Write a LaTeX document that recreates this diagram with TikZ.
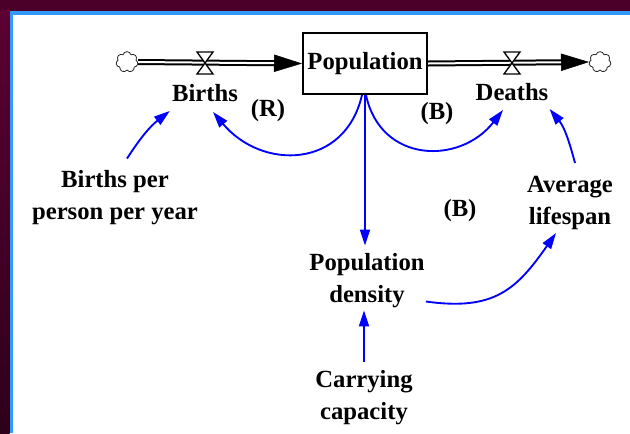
\documentclass[tikz,border=0pt]{standalone}
\usepackage{fontspec}
\setmainfont{Liberation Serif}
\usetikzlibrary{arrows.meta,shapes.symbols,calc}
\definecolor{framemaroon}{RGB}{74,0,40}
\definecolor{framemaroonA}{RGB}{92,0,52}
\definecolor{framemaroonB}{RGB}{46,0,26}
\definecolor{frameblue}{RGB}{51,153,255}
\begin{document}
\begin{tikzpicture}[x=0.75pt,y=0.75pt,
  lbl/.style={font=\fontsize{18.5}{24}\selectfont\bfseries, align=center, inner sep=0pt},
  link/.style={draw=blue, line width=1.4pt, -{Triangle[length=12pt,width=7.5pt]}},
  pipe/.style={draw=black, line width=1.5pt, double=white, double distance=1.5pt, shorten >=17pt},
  flowtip/.style={draw=white, line width=0.4pt, -{Triangle[length=21pt,width=13pt,color=black]}},
  valve/.style={draw=black, fill=white, line width=1pt, line join=miter},
  cloudy/.style={cloud, cloud puffs=7, cloud puff arc=150, aspect=1.05, draw=black!85, line width=0.6pt, fill=white, minimum width=16.5pt, minimum height=15.5pt, inner sep=0pt}]
\useasboundingbox (0,0) rectangle (630,-433);
% frame
\fill[framemaroon] (0,0) rectangle (630,-433);
\shade[top color=framemaroonA, bottom color=framemaroonB] (0,-10.7) rectangle (9.5,-433);
\fill[frameblue] (9.5,-10.7) rectangle (630,-433);
\fill[white] (13.3,-14.7) rectangle (630,-433);
% stock and clouds
\node[lbl, draw=black, line width=1.5pt, minimum width=93pt, minimum height=45.75pt] (pop) at (365,-63.5) {Population};
\node[cloudy] (cL) at (127,-62) {};
\node[cloudy] (cR) at (600,-62) {};
% flows
\draw[pipe] (cL.east) -- (pop.west);
\draw[flowtip] (cL.east) -- (pop.west);
\draw[pipe] (pop.east) -- (cR.west);
\draw[flowtip] (pop.east) -- (cR.west);
\coordinate (vL) at (205,-63);
\coordinate (vR) at (512,-63);
\draw[valve] ($(vL)+(-8,11)$) -- ($(vL)+(8,11)$) -- ($(vL)+(-8,-11)$) -- ($(vL)+(8,-11)$) -- cycle;
\draw[valve] ($(vR)+(-8,11)$) -- ($(vR)+(8,11)$) -- ($(vR)+(-8,-11)$) -- ($(vR)+(8,-11)$) -- cycle;
% labels
\node[lbl] (births) at (205,-93) {Births};
\node[lbl] (deaths) at (512,-92) {Deaths};
\node[lbl] (bppy) at (115,-198) {Births per\\person per year};
\node[lbl] (avgl) at (570,-203) {Average\\lifespan};
\node[lbl] (popd) at (367,-281) {Population\\density};
\node[lbl] (carry) at (364,-398) {Carrying\\capacity};
\node[lbl] (r1) at (268,-111) {(R)};
\node[lbl] (b1) at (437,-114) {(B)};
\node[lbl] (b2) at (460,-211) {(B)};
% links
\draw[link] ($(bppy.north)+(12,12)$) to[out=57,in=218] ($(births.south west)+(-2,-9)$);
\draw[link] ($(pop.south)+(-3,0)$) to[out=-103,in=-50,looseness=1.3] ($(births.south)+(8,-10)$);
\draw[link] ($(pop.south)+(1,0)$) to[out=-78,in=-128,looseness=1.3] ($(deaths.south)+(-9,-9)$);
\draw[link] (pop.south) -- ($(popd.north)+(-2,8)$);
\draw[link] ($(avgl.north)+(5,13)$) to[out=105,in=-51] ($(deaths.south east)+(1,-8)$);
\draw[link] ($(popd.south east)+(1,7)$) to[out=-8,in=-125,looseness=1.2] ($(avgl.south)+(-14,-3)$);
\draw[link] ($(carry.north)+(0,9)$) -- ($(popd.south)+(-3,-2)$);
\end{tikzpicture}
\end{document}
